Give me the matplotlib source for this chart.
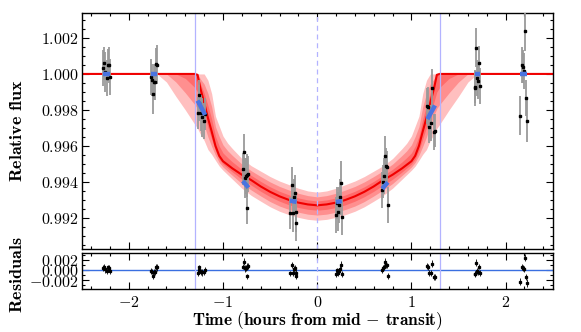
import numpy as np
import matplotlib
matplotlib.use("Agg")
import matplotlib.pyplot as plt
from matplotlib.ticker import MultipleLocator, FuncFormatter

plt.rcParams['mathtext.fontset'] = 'cm'
plt.rcParams['font.family'] = ['DejaVu Serif']

# ---------------- model curve (symmetric about mid-transit) -------------
x_half = np.array([-2.50, -1.70, -1.60, -1.50, -1.40, -1.30, -1.27, -1.24, -1.20, -1.16, -1.12, -1.08,
                   -1.04, -1.00, -0.95, -0.90, -0.80, -0.70, -0.60, -0.50, -0.40, -0.30, -0.20, -0.10, 0.00])
model_med = [1, 1, 1, 1, 1, 1, 0.99995, 0.99920, 0.99840, 0.99756, 0.99680, 0.99600, 0.99545, 0.99515,
             0.99495, 0.99475, 0.99440, 0.99410, 0.99375, 0.99345, 0.99320, 0.99300, 0.99285, 0.99275, 0.99270]
band3_lo = [1, 1, 0.99955, 0.99875, 0.99800, 0.99720, 0.99697, 0.99665, 0.99630, 0.99580, 0.99553, 0.99520,
            0.99488, 0.99465, 0.99440, 0.99415, 0.99365, 0.99325, 0.99293, 0.99262, 0.99237, 0.99218, 0.99203, 0.99192, 0.99187]
band2_lo = [1, 1, 1, 0.99955, 0.99895, 0.99830, 0.99808, 0.99770, 0.99715, 0.99650, 0.99597, 0.99548,
            0.99508, 0.99483, 0.99459, 0.99436, 0.99391, 0.99355, 0.99322, 0.99291, 0.99266, 0.99247, 0.99232, 0.99221, 0.99216]
band1_lo = [1, 1, 1, 1, 0.99975, 0.99925, 0.99900, 0.99845, 0.99778, 0.99703, 0.99638, 0.99574,
            0.99526, 0.99499, 0.99477, 0.99455, 0.99415, 0.99382, 0.99348, 0.99318, 0.99293, 0.99273, 0.99258, 0.99248, 0.99243]
band1_hi = [1, 1, 1, 1, 1, 1, 0.99997, 0.99946, 0.99893, 0.99825, 0.99749, 0.99654,
            0.99599, 0.99561, 0.99535, 0.99511, 0.99470, 0.99436, 0.99403, 0.99373, 0.99348, 0.99328, 0.99311, 0.99300, 0.99294]
band2_hi = [1, 1, 1, 1, 1, 1, 1, 0.99972, 0.99944, 0.99892, 0.99817, 0.99707,
            0.99652, 0.99606, 0.99573, 0.99547, 0.99499, 0.99462, 0.99430, 0.99400, 0.99375, 0.99355, 0.99337, 0.99324, 0.99317]
band3_hi = [1, 1, 1, 1, 1, 1, 1, 1, 1, 0.99965, 0.99890, 0.99765,
            0.99710, 0.99655, 0.99615, 0.99585, 0.99530, 0.99490, 0.99460, 0.99430, 0.99405, 0.99385, 0.99365, 0.99350, 0.99343]

# ---------------- observations -------------
t_obs = [-2.27, -2.26, -2.25, -2.23, -2.22, -2.21, -2.20,
         -1.76, -1.75, -1.74, -1.73, -1.72, -1.71, -1.70,
         -1.27, -1.26, -1.25, -1.235, -1.22, -1.205, -1.19,
         -0.79, -0.78, -0.77, -0.76, -0.75, -0.74, -0.73,
         -0.29, -0.27, -0.26, -0.25, -0.24, -0.23, -0.22,
         0.20, 0.21, 0.22, 0.23, 0.24, 0.25, 0.26,
         0.69, 0.70, 0.71, 0.72, 0.73, 0.74, 0.75,
         1.17, 1.18, 1.19, 1.21, 1.22, 1.24, 1.25,
         1.67, 1.68, 1.69, 1.70, 1.71, 1.72, 1.73,
         2.15, 2.17, 2.18, 2.20, 2.21, 2.22, 2.23]
f_obs = [1.00035, 1.00058, 1.00012, 0.99978, 1.00050, 1.00047, 0.99985,
         0.99985, 0.99967, 0.99889, 0.99957, 0.99955, 1.00054, 1.00052,
         0.99783, 0.99839, 0.99885, 0.99783, 0.99759, 0.99741, 0.99778,
         0.99472, 0.99565, 0.99422, 0.99431, 0.99254, 0.99437, 0.99445,
         0.99226, 0.99383, 0.99230, 0.99318, 0.99337, 0.99233, 0.99170,
         0.99217, 0.99282, 0.99235, 0.99272, 0.99318, 0.99396, 0.99207,
         0.99357, 0.99402, 0.99431, 0.99544, 0.99487, 0.99482, 0.99274,
         0.99822, 0.99815, 0.99707, 0.99726, 0.99920, 0.99676, 0.99685,
         0.99920, 0.99926, 1.00146, 0.99976, 0.99958, 1.00063, 0.99933,
         0.99768, 1.00050, 1.00041, 1.00017, 1.00239, 0.99865, 0.99741]
f_err = [0.0010, 0.0009, 0.0011, 0.0010, 0.0009, 0.0010, 0.0010,
         0.0010, 0.0009, 0.0011, 0.0010, 0.0010, 0.0009, 0.0011,
         0.0009, 0.0010, 0.0008, 0.0010, 0.0011, 0.0010, 0.0009,
         0.0009, 0.0010, 0.0011, 0.0010, 0.0009, 0.0012, 0.0010,
         0.0009, 0.0010, 0.0011, 0.0010, 0.0010, 0.0011, 0.0010,
         0.0010, 0.0009, 0.0011, 0.0010, 0.0010, 0.0012, 0.0010,
         0.0010, 0.0009, 0.0010, 0.0011, 0.0010, 0.0009, 0.0010,
         0.0010, 0.0011, 0.0009, 0.0010, 0.0011, 0.0010, 0.0009,
         0.0010, 0.0009, 0.0011, 0.0010, 0.0010, 0.0009, 0.0010,
         0.0011, 0.0010, 0.0009, 0.0010, 0.0011, 0.0010, 0.0012]
# best-fit model at observation times (blue)
f_fit = [1, 1, 1, 1, 1, 1, 1,
         1, 1, 1, 1, 1, 1, 1,
         0.99852, 0.99843, 0.99833, 0.99818, 0.99803, 0.99788, 0.99772,
         0.99405, 0.99399, 0.99393, 0.99387, 0.99381, 0.99375, 0.99368,
         0.99296, 0.99294, 0.99293, 0.99292, 0.99291, 0.99290, 0.99289,
         0.99288, 0.99289, 0.99290, 0.99291, 0.99292, 0.99293, 0.99294,
         0.99362, 0.99368, 0.99374, 0.99380, 0.99386, 0.99392, 0.99398,
         0.99749, 0.99758, 0.99768, 0.99787, 0.99796, 0.99815, 0.99825,
         1, 1, 1, 1, 1, 1, 1,
         1, 1, 1, 1, 1, 1, 1]
group = [0]*7 + [1]*7 + [2]*7 + [3]*7 + [4]*7 + [5]*7 + [6]*7 + [7]*7 + [8]*7 + [9]*7

t_contact = [-1.3, 1.3]
x_ticks = [-2, -1, 0, 1, 2]
y_ticks = [0.992, 0.994, 0.996, 0.998, 1.000, 1.002]
r_ticks = [-0.002, 0.0, 0.002]

# ---------------- build ----------------
def mirror(v):
    v = np.asarray(v, float)
    return np.concatenate([v, v[-2::-1]])

xm = np.concatenate([x_half, -x_half[-2::-1]])
t = np.asarray(t_obs); f = np.asarray(f_obs); e = np.asarray(f_err); fit = np.asarray(f_fit)
g = np.asarray(group)
res = f - fit

fig = plt.figure(figsize=(5.81, 3.32), dpi=100)
ax = fig.add_axes([0.1406, 0.2509, 0.8107, 0.7091])
axr = fig.add_axes([0.1406, 0.1304, 0.8107, 0.1085])

for lo, hi in [(band3_lo, band3_hi), (band2_lo, band2_hi), (band1_lo, band1_hi)]:
    ax.fill_between(xm, mirror(lo), mirror(hi), color='red', alpha=0.25, lw=0, zorder=1)
ax.plot(xm, mirror(model_med), color='#f00000', lw=1.5, zorder=2)

vcol = '#b3b3ff'
for a in (ax, axr):
    for tc in t_contact:
        a.axvline(tc, color=vcol, lw=0.9, zorder=2.5)
    a.axvline(0, color=vcol, lw=0.9, ls=(0, (4, 3)), zorder=2.5)

ax.errorbar(t, f, yerr=e, fmt='none', ecolor='#9a9a9a', elinewidth=1.3, zorder=3)
ax.plot(t, f, 's', color='black', ms=1.6, zorder=4)
for k in np.unique(g):
    sel = g == k
    ax.plot(t[sel], fit[sel], color='#4a74e0', lw=3.2, solid_capstyle='butt', zorder=5)

axr.axhline(0, color='#3a6fe0', lw=1.0, zorder=2)
axr.errorbar(t, res, yerr=e * 0.6, fmt='none', ecolor='black', elinewidth=0.6, zorder=3)
axr.plot(t, res, 's', color='black', ms=1.4, zorder=4)

ax.set_xlim(-2.5, 2.5)
axr.set_xlim(-2.5, 2.5)
ax.set_ylim(0.99029, 1.00337)
axr.set_ylim(-0.0037, 0.0034)

bold_num = lambda fmt: FuncFormatter(lambda v, p: r'$\mathbf{' + (fmt % (0.0 if abs(v) < 1e-12 else v)) + '}$')

ax.set_yticks(y_ticks)
ax.yaxis.set_major_formatter(bold_num('%.3f'))
ax.yaxis.set_minor_locator(MultipleLocator(0.0005))
ax.set_xticks(x_ticks)
ax.xaxis.set_minor_locator(MultipleLocator(0.2))
ax.tick_params(labelbottom=False)

axr.set_yticks(r_ticks)
axr.yaxis.set_major_formatter(bold_num('%.3f'))
axr.yaxis.set_minor_locator(MultipleLocator(0.001))
axr.set_xticks(x_ticks)
axr.xaxis.set_major_formatter(bold_num('%d'))
axr.xaxis.set_minor_locator(MultipleLocator(0.2))

for a in (ax, axr):
    a.tick_params(which='both', direction='in', top=True, right=True, labelsize=11.5, width=0.8)
    a.tick_params(which='major', length=5)
    a.tick_params(which='minor', length=2.5)
    a.tick_params(axis='y', pad=2)
    for s in a.spines.values():
        s.set_linewidth(1.0)

ax.set_ylabel(r'$\mathbf{Relative\ flux}$', fontsize=13)
ax.yaxis.set_label_coords(-0.118, 0.5)
axr.set_ylabel(r'$\mathbf{Residuals}$', fontsize=13)
axr.yaxis.set_label_coords(-0.118, 0.38)
axr.set_xlabel(r'$\mathbf{Time\ (hours\ from\ mid\,-\,transit)}$', fontsize=12.5, labelpad=-1)

fig.savefig('out.png', dpi=100)
